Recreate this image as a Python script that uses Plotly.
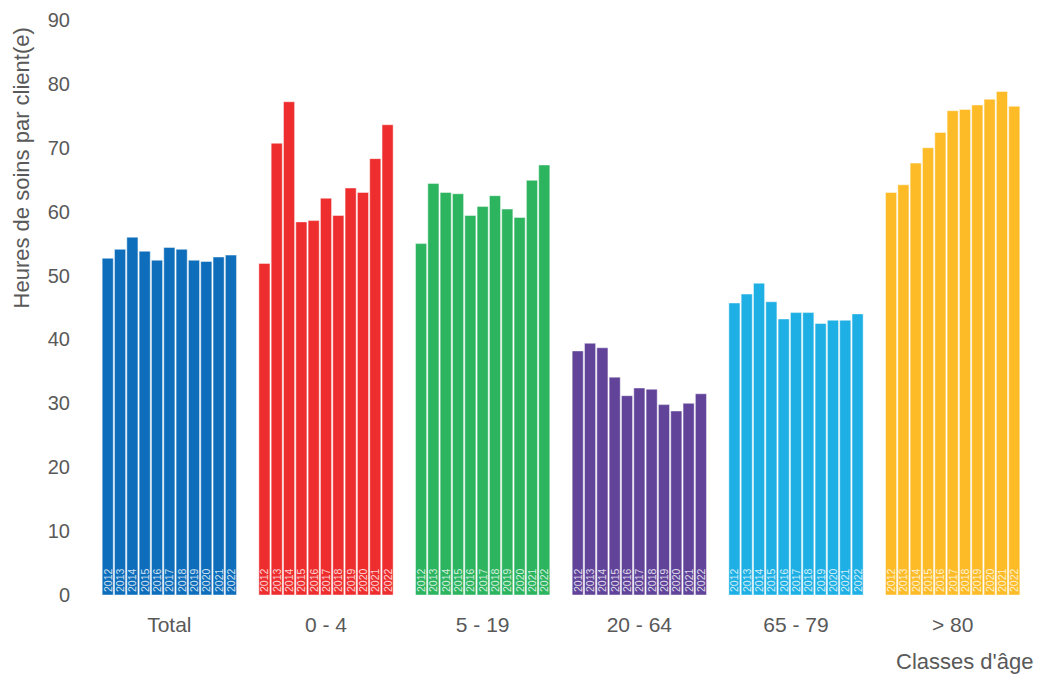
import plotly.graph_objects as go

# Age classes (x categories) and their bar colours
categories = ["Total", "0 - 4", "5 - 19", "20 - 64", "65 - 79", "> 80"]
group_colors = ["#0E6EBB", "#EE2E2E", "#2CB45F", "#61449A", "#1EB0E4", "#FDBC27"]

years = ["2012", "2013", "2014", "2015", "2016", "2017",
         "2018", "2019", "2020", "2021", "2022"]

# Hours of care per client, one list per age class, in year order
total = [52.7, 54.1, 56.0, 53.8, 52.4, 54.4, 54.1, 52.4, 52.2, 52.9, 53.2]
age_0_4 = [51.9, 70.7, 77.2, 58.4, 58.6, 62.1, 59.4, 63.7, 63.0, 68.3, 73.6]
age_5_19 = [55.0, 64.4, 63.0, 62.8, 59.4, 60.8, 62.5, 60.4, 59.1, 64.9, 67.3]
age_20_64 = [38.2, 39.4, 38.7, 34.1, 31.2, 32.4, 32.2, 29.8, 28.8, 30.0, 31.5]
age_65_79 = [45.7, 47.1, 48.8, 45.9, 43.2, 44.2, 44.2, 42.5, 43.0, 43.0, 44.0]
age_80_plus = [63.0, 64.2, 67.6, 70.0, 72.4, 75.8, 76.0, 76.7, 77.6, 78.8, 76.5]

series = [total, age_0_4, age_5_19, age_20_64, age_65_79, age_80_plus]

fig = go.Figure()

# One trace per year so that each age class shows eleven side-by-side bars
for i, year in enumerate(years):
    fig.add_trace(go.Bar(
        x=categories,
        y=[s[i] for s in series],
        name=year,
        marker=dict(color=group_colors,
                    line=dict(color="rgba(255,255,255,0.55)", width=0.8)),
        text=[year] * len(categories),
        textposition="inside",
        insidetextanchor="start",
        textangle=-90,
        constraintext="none",
        textfont=dict(family="Liberation Sans, Arial, sans-serif",
                      size=10.5, color="rgba(255,255,255,0.8)"),
        hovertemplate="%{x} " + year + ": %{y}<extra></extra>",
    ))

font_color = "#595959"

fig.update_layout(
    width=1040,
    height=675,
    barmode="group",
    bargap=0.135,
    bargroupgap=0.1,
    showlegend=False,
    plot_bgcolor="white",
    paper_bgcolor="white",
    margin=dict(l=91, r=9, t=20, b=80),
    font=dict(family="Liberation Sans, Arial, sans-serif", color=font_color),
    xaxis=dict(
        showgrid=False,
        showline=False,
        zeroline=False,
        ticks="",
        ticklabelstandoff=15,
        tickfont=dict(size=21, color=font_color),
    ),
    yaxis=dict(
        range=[0, 90],
        tickvals=[0, 10, 20, 30, 40, 50, 60, 70, 80, 90],
        showgrid=False,
        showline=False,
        zeroline=False,
        ticks="",
        ticklabelstandoff=20,
        tickfont=dict(size=20, color=font_color),
    ),
    annotations=[
        dict(text="Heures de soins par client(e)", textangle=-90,
             xref="paper", yref="paper", x=-0.0743, y=0.99,
             xanchor="center", yanchor="top", showarrow=False,
             font=dict(size=22, color=font_color)),
        dict(text="Classes d'âge",
             xref="paper", yref="paper", x=1.0053, y=-0.1148,
             xanchor="right", yanchor="middle", showarrow=False,
             font=dict(size=22, color=font_color)),
    ],
)

fig.write_html("out.html")
